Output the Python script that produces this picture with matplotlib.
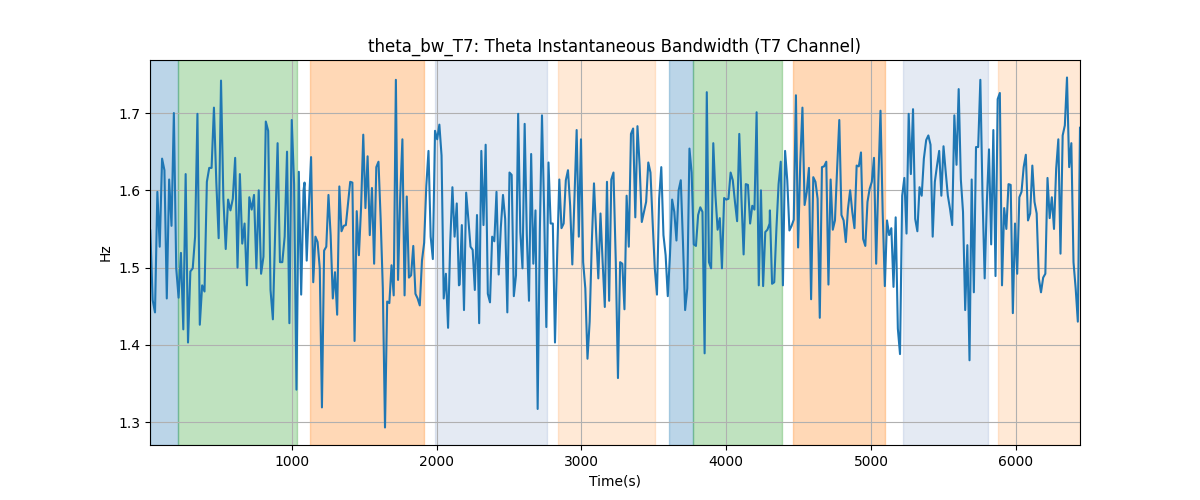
import numpy as np
import matplotlib
matplotlib.use('Agg')
import matplotlib.pyplot as plt

# theta bandwidth samples (Hz), read left to right in six stretches;
# each stretch spans chunk_starts[i]..chunk_ends[i] seconds
chunk_starts = [23, 1088, 2159, 3237, 4301, 5380]
chunk_ends = [1081, 2154, 3221, 4299, 5364, 6442]

bw_chunk1 = [
    1.548, 1.458, 1.442, 1.598, 1.527, 1.641, 1.626, 1.460, 1.614, 1.554,
    1.700, 1.499, 1.461, 1.519, 1.420, 1.621, 1.403, 1.495, 1.499, 1.540,
    1.699, 1.426, 1.477, 1.469, 1.611, 1.629, 1.629, 1.707, 1.611, 1.538,
    1.742, 1.589, 1.524, 1.588, 1.574, 1.589, 1.642, 1.500, 1.621, 1.531,
    1.557, 1.477, 1.591, 1.575, 1.594, 1.499, 1.600, 1.492, 1.514, 1.689,
    1.677, 1.471, 1.433, 1.550, 1.661, 1.507, 1.507, 1.540, 1.650, 1.428,
    1.691, 1.608, 1.342, 1.624, 1.465, 1.600,
]
bw_chunk2 = [
    1.610, 1.509, 1.580, 1.643, 1.481, 1.540, 1.533, 1.499, 1.319, 1.522,
    1.527, 1.594, 1.542, 1.460, 1.494, 1.439, 1.605, 1.547, 1.554, 1.555,
    1.583, 1.611, 1.610, 1.405, 1.573, 1.516, 1.578, 1.672, 1.577, 1.644,
    1.542, 1.603, 1.505, 1.630, 1.637, 1.563, 1.473, 1.293, 1.456, 1.454,
    1.503, 1.464, 1.743, 1.484, 1.593, 1.666, 1.464, 1.592, 1.487, 1.490,
    1.528, 1.466, 1.460, 1.451, 1.509, 1.532, 1.606, 1.651, 1.540, 1.511,
    1.677, 1.666, 1.685, 1.645, 1.460, 1.492, 1.422, 1.533, 1.604, 1.540,
    1.583, 1.477,
]
bw_chunk3 = [
    1.478, 1.555, 1.445, 1.597, 1.563, 1.527, 1.523, 1.471, 1.568, 1.428,
    1.651, 1.555, 1.659, 1.466, 1.455, 1.540, 1.534, 1.598, 1.491, 1.552,
    1.594, 1.563, 1.442, 1.623, 1.620, 1.463, 1.490, 1.699, 1.546, 1.499,
    1.686, 1.542, 1.457, 1.647, 1.505, 1.574, 1.317, 1.546, 1.697, 1.572,
    1.423, 1.636, 1.557, 1.557, 1.403, 1.516, 1.614, 1.551, 1.557, 1.613,
    1.626, 1.580, 1.504, 1.593, 1.678, 1.540, 1.666, 1.507, 1.473, 1.382,
    1.430, 1.533, 1.609, 1.545, 1.486, 1.570, 1.507, 1.449, 1.611, 1.457,
    1.614, 1.623,
]
bw_chunk4 = [
    1.507, 1.357, 1.507, 1.505, 1.446, 1.593, 1.527, 1.673, 1.680, 1.565,
    1.683, 1.632, 1.559, 1.572, 1.585, 1.636, 1.623, 1.559, 1.499, 1.465,
    1.589, 1.630, 1.542, 1.516, 1.463, 1.516, 1.588, 1.572, 1.535, 1.600,
    1.613, 1.533, 1.445, 1.473, 1.654, 1.623, 1.530, 1.528, 1.568, 1.578,
    1.572, 1.389, 1.727, 1.507, 1.499, 1.661, 1.593, 1.549, 1.564, 1.499,
    1.590, 1.588, 1.589, 1.623, 1.613, 1.585, 1.560, 1.673, 1.589, 1.517,
    1.608, 1.607, 1.557, 1.580, 1.575, 1.701, 1.477, 1.600, 1.476, 1.546,
    1.549, 1.557,
]
bw_chunk5 = [
    1.574, 1.479, 1.481, 1.550, 1.608, 1.637, 1.477, 1.651, 1.613, 1.548,
    1.554, 1.562, 1.723, 1.526, 1.636, 1.707, 1.581, 1.598, 1.629, 1.459,
    1.617, 1.611, 1.589, 1.435, 1.630, 1.631, 1.637, 1.478, 1.614, 1.549,
    1.561, 1.628, 1.691, 1.568, 1.561, 1.533, 1.576, 1.600, 1.572, 1.551,
    1.632, 1.631, 1.649, 1.537, 1.528, 1.585, 1.602, 1.611, 1.642, 1.505,
    1.611, 1.703, 1.572, 1.476, 1.561, 1.542, 1.551, 1.475, 1.565, 1.421,
    1.388, 1.593, 1.616, 1.544, 1.699, 1.621, 1.705, 1.563, 1.547, 1.604,
    1.593, 1.641,
]
bw_chunk6 = [
    1.665, 1.671, 1.659, 1.540, 1.611, 1.632, 1.651, 1.593, 1.657, 1.624,
    1.593, 1.576, 1.555, 1.697, 1.633, 1.731, 1.614, 1.572, 1.445, 1.529,
    1.380, 1.614, 1.468, 1.656, 1.656, 1.743, 1.593, 1.486, 1.585, 1.653,
    1.530, 1.678, 1.489, 1.718, 1.726, 1.477, 1.577, 1.550, 1.608, 1.607,
    1.441, 1.557, 1.492, 1.591, 1.598, 1.630, 1.646, 1.561, 1.570, 1.632,
    1.585, 1.570, 1.486, 1.468, 1.487, 1.492, 1.616, 1.564, 1.591, 1.550,
    1.628, 1.666, 1.518, 1.671, 1.684, 1.746, 1.630, 1.661, 1.507, 1.473,
    1.430, 1.681,
]

# shaded segments: start, end, colour, alpha
seg_starts = [21, 212, 1129, 1986, 2836, 3603, 3771, 4462, 5221, 5877]
seg_ends = [212, 1035, 1910, 2760, 3507, 3771, 4382, 5094, 5808, 6442]
seg_colors = ['tab:blue', 'tab:green', 'tab:orange', '#4c72b0', 'tab:orange',
              'tab:blue', 'tab:green', 'tab:orange', '#4c72b0', 'tab:orange']
seg_alphas = [0.3, 0.3, 0.3, 0.15, 0.17, 0.3, 0.3, 0.3, 0.15, 0.17]

chunks = [bw_chunk1, bw_chunk2, bw_chunk3, bw_chunk4, bw_chunk5, bw_chunk6]
t = np.concatenate([np.linspace(s, e, len(c))
                    for s, e, c in zip(chunk_starts, chunk_ends, chunks)])
bw = np.concatenate(chunks)

fig, ax = plt.subplots(figsize=(12, 5), dpi=100)
for s, e, c, a in zip(seg_starts, seg_ends, seg_colors, seg_alphas):
    ax.axvspan(s, e, color=c, alpha=a)
ax.plot(t, bw, color='tab:blue')
ax.set_xlim(21, t[-1])
ax.grid(True)
ax.set_title('theta_bw_T7: Theta Instantaneous Bandwidth (T7 Channel)')
ax.set_xlabel('Time(s)')
ax.set_ylabel('Hz')
fig.savefig('out.png')
